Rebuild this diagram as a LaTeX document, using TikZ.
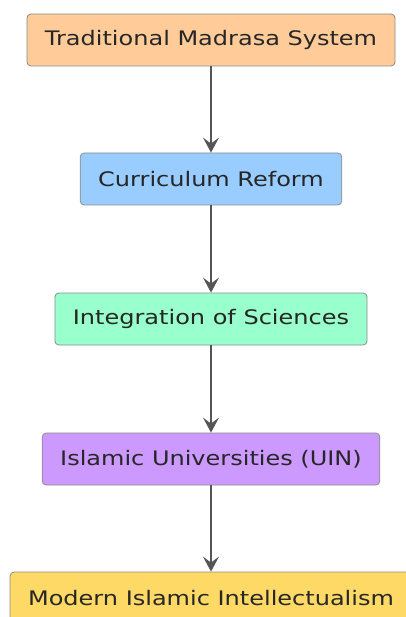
\documentclass[tikz,border=0pt]{standalone}
\usepackage{fontspec}
\setmainfont{DejaVu Sans}[FakeStretch=1.2]
\usepackage[svgnames, dvipsnames, usenames]{xcolor}
\usepackage{tikz}
\usetikzlibrary{arrows.meta}
\definecolor{peach}{HTML}{FFCC99}
\definecolor{skyblue}{HTML}{99CCFF}
\definecolor{mint}{HTML}{99FFCC}
\definecolor{lavender}{HTML}{CC99FF}
\definecolor{gold}{HTML}{FFD966}
\definecolor{arrowgray}{HTML}{555555}

\begin{document}
\begin{tikzpicture}[x=1pt, y=-1pt,
  stage/.style={draw=black!45, line width=0.8pt, rounded corners=4pt,
    minimum height=52pt, inner xsep=18pt, text=black!85,
    font=\fontsize{20}{24}\selectfont},
  flow/.style={-{Stealth[length=15pt, width=16pt, inset=6pt]}, color=arrowgray, line width=1.5pt}]
%%%%% Frame %%%%%
\useasboundingbox (0,0) rectangle (405,617);
%%%%% Stages %%%%%
\node[stage, fill=peach] (trad) at (211,40) {Traditional Madrasa System};
\node[stage, fill=skyblue] (reform) at (211,179) {Curriculum Reform};
\node[stage, fill=mint] (integ) at (211,319) {Integration of Sciences};
\node[stage, fill=lavender] (univ) at (211,459) {Islamic Universities (UIN)};
\node[stage, fill=gold] (modern) at (211,598) {Modern Islamic Intellectualism};
%%%%% Arrows %%%%%
\foreach \a/\b in {trad/reform, reform/integ, integ/univ, univ/modern}{
\draw[flow] (\a) -- (\b);
}
\end{tikzpicture}
\end{document}
